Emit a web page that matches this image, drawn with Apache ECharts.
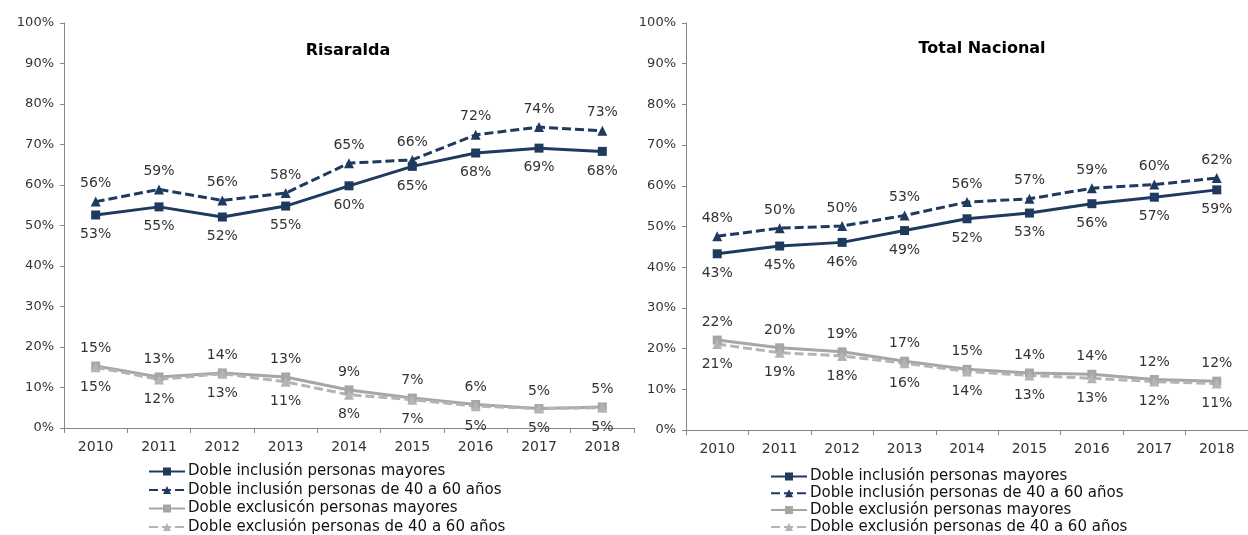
<!DOCTYPE html>
<html>
<head>
<meta charset="utf-8">
<script src="https://cdn.jsdelivr.net/npm/echarts@6/dist/echarts.min.js"></script>
<style>
  html, body { margin: 0; padding: 0; background: #fff; }
</style>
</head>
<body>
<div id="chart" style="width: 1248px; height: 535px;"></div>
<script>
  const years = ['2010', '2011', '2012', '2013', '2014', '2015', '2016', '2017', '2018']

  // Risaralda
  const risInclMayores = [52.6, 54.6, 52.1, 54.8, 59.8, 64.6, 67.9, 69.1, 68.3]
  const risIncl4060 = [55.9, 58.9, 56.2, 58.0, 65.4, 66.2, 72.4, 74.3, 73.4]
  const risExclMayores = [15.3, 12.6, 13.6, 12.6, 9.4, 7.4, 5.8, 4.8, 5.2]
  const risExcl4060 = [15.0, 12.0, 13.4, 11.4, 8.2, 7.0, 5.4, 4.8, 5.0]

  // Total Nacional
  const nacInclMayores = [43.3, 45.2, 46.1, 49.0, 51.9, 53.3, 55.6, 57.2, 59.0]
  const nacIncl4060 = [47.6, 49.6, 50.1, 52.7, 56.0, 56.8, 59.4, 60.3, 61.9]
  const nacExclMayores = [22.1, 20.2, 19.2, 16.9, 14.9, 14.0, 13.7, 12.4, 12.0]
  const nacExcl4060 = [21.1, 19.0, 18.2, 16.4, 14.4, 13.4, 12.7, 11.9, 11.4]

  const leftNames = ['Doble inclusión personas mayores', 'Doble inclusión personas de 40 a 60 años',
    'Doble exclusicón personas mayores', 'Doble exclusión personas de 40 a 60 años']
  const rightNames = ['Doble inclusión personas mayores', 'Doble inclusión personas de 40 a 60 años',
    'Doble exclusión personas mayores', 'Doble exclusión personas de 40 a 60 años']

  const font = 'DejaVu Sans'
  const navy = '#1f3a5f'
  const grey = '#a6a6a6'
  const greyDash = '#b4b4b4'
  const textColor = '#333333'

  function makeSeries (name, data, idx, color, symbol, dashed, labelPos) {
    return {
      name: name,
      type: 'line',
      xAxisIndex: idx,
      yAxisIndex: idx,
      data: data,
      symbol: symbol,
      symbolSize: symbol === 'rect' ? 9 : 10,
      color: color,
      lineStyle: { color: color, width: 3, type: dashed ? [9, 4] : 'solid' },
      itemStyle: { color: color },
      label: {
        show: true,
        position: labelPos,
        distance: labelPos === 'top' ? 6 : 8,
        color: textColor,
        fontFamily: font,
        fontSize: 14,
        formatter: function (p) { return Math.round(p.value) + '%' }
      },
      emphasis: { disabled: true },
      animation: false
    }
  }

  function xAxisFor (idx) {
    return {
      type: 'category',
      gridIndex: idx,
      data: years,
      boundaryGap: true,
      axisLine: { lineStyle: { color: '#868686', width: 1 } },
      axisTick: { show: true, length: 5, interval: 0, lineStyle: { color: '#868686' } },
      axisLabel: { color: textColor, fontFamily: font, fontSize: 14, margin: 12, interval: 0 }
    }
  }

  function yAxisFor (idx) {
    return {
      type: 'value',
      gridIndex: idx,
      min: 0,
      max: 100,
      interval: 10,
      axisLine: { show: true, lineStyle: { color: '#868686', width: 1 } },
      axisTick: { show: true, length: 4, lineStyle: { color: '#868686' } },
      splitLine: { show: false },
      axisLabel: { color: textColor, fontFamily: font, fontSize: 13, margin: 10, formatter: '{value}%' }
    }
  }

  function legendFor (names, left, top, gap) {
    return {
      data: names,
      orient: 'vertical',
      left: left,
      top: top,
      padding: 0,
      itemWidth: 36,
      itemHeight: 10,
      itemGap: gap,
      selectedMode: false,
      textStyle: { fontFamily: font, fontSize: 15, color: '#111', padding: [0, 0, 0, -2] }
    }
  }

  const option = {
    animation: false,
    title: [
      { text: 'Risaralda', left: 343, top: 38, textAlign: 'center',
        textStyle: { fontFamily: font, fontSize: 16, fontWeight: 'bold', color: '#000' } },
      { text: 'Total Nacional', left: 977, top: 36, textAlign: 'center',
        textStyle: { fontFamily: font, fontSize: 16, fontWeight: 'bold', color: '#000' } }
    ],
    legend: [
      legendFor(leftNames, 148, 464, 3.5),
      legendFor(rightNames, 770, 469, 1.8)
    ],
    grid: [
      { left: 64, top: 23, width: 570, height: 405 },
      { left: 686, top: 23, width: 572, height: 407 }
    ],
    xAxis: [xAxisFor(0), xAxisFor(1)],
    yAxis: [yAxisFor(0), yAxisFor(1)],
    series: [
      makeSeries(leftNames[0], risInclMayores, 0, navy, 'rect', false, 'bottom'),
      makeSeries(leftNames[1], risIncl4060, 0, navy, 'triangle', true, 'top'),
      makeSeries(leftNames[2], risExclMayores, 0, grey, 'rect', false, 'top'),
      makeSeries(leftNames[3], risExcl4060, 0, greyDash, 'triangle', true, 'bottom'),
      makeSeries(rightNames[0], nacInclMayores, 1, navy, 'rect', false, 'bottom'),
      makeSeries(rightNames[1], nacIncl4060, 1, navy, 'triangle', true, 'top'),
      makeSeries(rightNames[2], nacExclMayores, 1, grey, 'rect', false, 'top'),
      makeSeries(rightNames[3], nacExcl4060, 1, greyDash, 'triangle', true, 'bottom')
    ]
  }

  const chart = echarts.init(document.getElementById('chart'))
  chart.setOption(option)
</script>
</body>
</html>
